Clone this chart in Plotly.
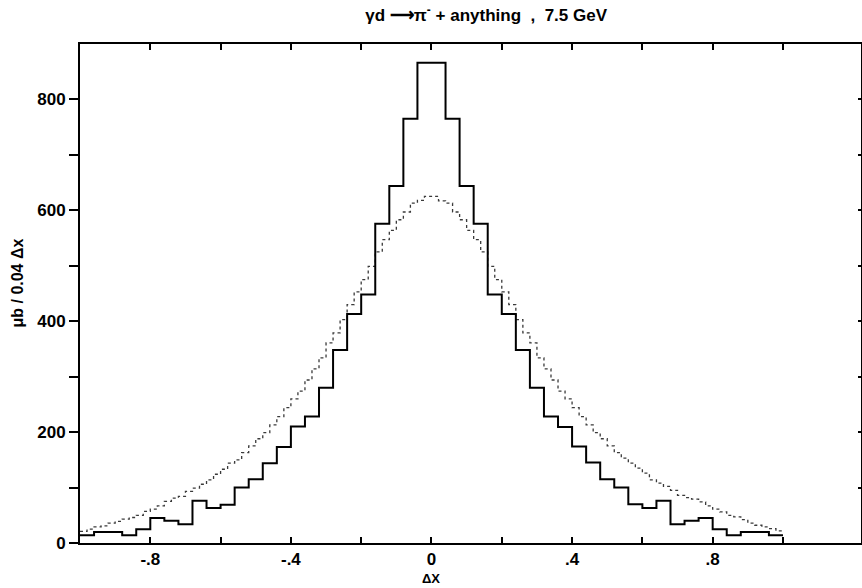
import numpy as np
import plotly.graph_objects as go

# Measured histogram: 0.04-wide bins from -1.00 to +1.00 (values in μb per 0.04 Δx)
solid_bin_width = 0.04
solid_values = [
    14, 20, 20, 14, 25, 45, 40, 34, 76, 63, 69, 100, 115, 144, 173, 210, 228, 280, 348, 413, 448, 576, 644, 765, 866,
    866, 765, 644, 576, 448, 413, 348, 280, 228, 209, 174, 145, 115, 100, 70, 63, 76, 34, 40, 45, 25, 14, 20, 20, 14,
]

# Model curve: 0.02-wide bins from -1.00 to +1.00
dotted_bin_width = 0.02
dotted_values = [
    21, 25, 29, 31, 36, 39, 43, 46, 50, 57, 61, 67, 75, 81, 84, 93, 99, 106, 114, 124,
    133, 144, 150, 163, 175, 188, 199, 213, 228, 244, 260, 274, 294, 314, 334, 361, 379, 403, 430, 453,
    475, 499, 525, 547, 564, 583, 597, 613, 618, 625,
    625, 617, 613, 597, 583, 564, 547, 525, 499, 475,
    453, 430, 403, 379, 361, 334, 314, 294, 274, 260, 244, 228, 213, 199, 188, 175, 163, 153, 144, 135,
    126, 114, 108, 102, 95, 86, 82, 79, 74, 67, 61, 56, 50, 47, 42, 36, 32, 29, 26, 22,
]

x_start = -1.0

x_tickvals = [-0.8, -0.4, 0.0, 0.4, 0.8]
x_ticktext = ["-.8", "-.4", "0", ".4", ".8"]
x_minorvals = [-0.6, -0.2, 0.2, 0.6, 1.0]
y_tickvals = [0, 200, 400, 600, 800]
y_ticktext = ["0", "200", "400", "600", "800"]
y_minorvals = [100, 300, 500, 700]

title_text = "γd ⟶π<sup>-</sup> + anything  ,  7.5 GeV"
x_title = "ΔX"
y_title = "μb / 0.04 Δx"


def step_xy(values, width, start):
    """Left bin edges plus the final right edge, for an 'hv' step line."""
    n = len(values)
    xs = list(start + width * np.arange(n + 1))
    ys = list(values) + [values[-1]]
    return xs, ys


sx, sy = step_xy(solid_values, solid_bin_width, x_start)
dx, dy = step_xy(dotted_values, dotted_bin_width, x_start)

font_family = "Liberation Sans, Arial, sans-serif"

fig = go.Figure()
fig.add_trace(go.Scatter(
    x=dx, y=dy, mode="lines", line_shape="hv",
    line=dict(color="#3a3a3a", width=1.3, dash="dot"),
    showlegend=False, hoverinfo="skip",
))
fig.add_trace(go.Scatter(
    x=sx, y=sy, mode="lines", line_shape="hv",
    line=dict(color="black", width=2),
    showlegend=False, hoverinfo="skip",
))
# right-hand frame with inward ticks
fig.add_trace(go.Scatter(x=[None], y=[None], yaxis="y2", showlegend=False, hoverinfo="skip"))

x_range = [-1.0, 1.222]
y_range = [0, 900]

fig.update_layout(
    width=862, height=588,
    margin=dict(l=80, r=1, t=44, b=45),
    paper_bgcolor="white", plot_bgcolor="white",
    font=dict(family=font_family, color="black"),
    xaxis=dict(
        range=x_range, tickmode="array", tickvals=x_tickvals, ticktext=x_ticktext,
        ticks="inside", ticklen=6, tickwidth=2, tickcolor="black",
        minor=dict(tickmode="array", tickvals=x_minorvals, ticks="inside", ticklen=6,
                   tickwidth=2, tickcolor="black", showgrid=False),
        showline=True, linecolor="black", linewidth=2, mirror="ticks",
        showgrid=False, zeroline=False,
        tickfont=dict(size=17, family=font_family, weight="bold"),
    ),
    yaxis=dict(
        range=y_range, tickmode="array", tickvals=y_tickvals, ticktext=y_ticktext,
        ticks="outside", ticklen=9, tickwidth=2, tickcolor="black",
        minor=dict(tickmode="array", tickvals=y_minorvals, ticks="outside", ticklen=9,
                   tickwidth=2, tickcolor="black", showgrid=False),
        showline=True, linecolor="black", linewidth=2,
        showgrid=False, zeroline=False,
        tickfont=dict(size=17, family=font_family, weight="bold"),
    ),
    yaxis2=dict(
        range=y_range, overlaying="y", side="right", tickmode="array",
        tickvals=y_tickvals + y_minorvals,
        ticks="inside", ticklen=3, tickwidth=2, tickcolor="black",
        showticklabels=False, showline=True, linecolor="black", linewidth=2,
        showgrid=False, zeroline=False,
    ),
    title=dict(
        text=title_text, x=0.564, xanchor="center", y=1 - 15 / 588, yanchor="middle",
        font=dict(size=17, family=font_family, weight="bold"),
    ),
    annotations=[
        dict(text=x_title, xref="x", yref="paper", x=0, y=0, yshift=-35, yanchor="middle",
             showarrow=False, font=dict(size=13, family=font_family, weight="bold")),
        dict(text=y_title, xref="paper", yref="paper", x=0, xshift=-62, y=0.52, textangle=-90,
             xanchor="center", yanchor="middle", showarrow=False,
             font=dict(size=16, family=font_family, weight="bold")),
    ],
)

fig.write_html("out.html")
